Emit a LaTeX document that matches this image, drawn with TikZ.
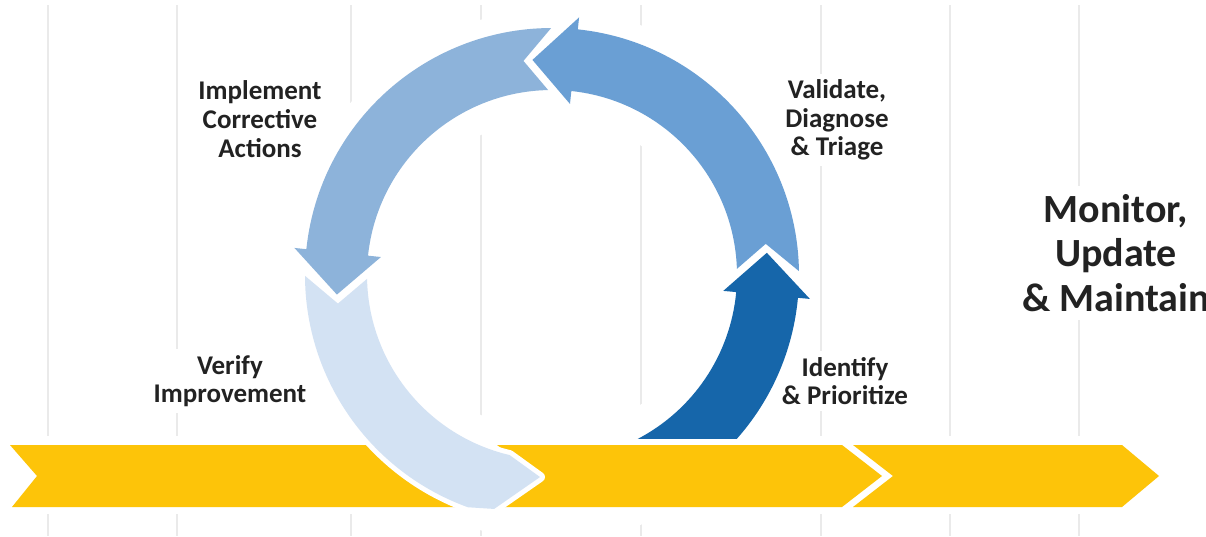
\documentclass[tikz,border=0pt]{standalone}
\usepackage{fontspec}
\setmainfont{Carlito}
\usetikzlibrary{calc}
\definecolor{cycPale}{RGB}{211,226,243}
\definecolor{cycLight}{RGB}{141,179,218}
\definecolor{cycMid}{RGB}{106,159,212}
\definecolor{cycDark}{RGB}{22,102,170}
\definecolor{barYellow}{RGB}{253,196,9}
\definecolor{gridGray}{RGB}{234,234,234}
\definecolor{labelInk}{RGB}{34,34,34}

\begin{document}
\begin{tikzpicture}[x=1pt,y=1pt,
  gridline/.style={draw=gridGray, line width=1.2pt},
  chev/.style={fill=barYellow},
  halo/.style={preaction={draw=white, line width=10pt, line join=round}},
  txt/.style={font=\bfseries\fontsize{27}{28.7}\selectfont, text=labelInk,
              align=center, fill=white, inner sep=6pt},
  bigtxt/.style={font=\bfseries\fontsize{40}{44.5}\selectfont, text=labelInk,
                 align=center, fill=white, inner sep=8pt},
]
\useasboundingbox (0,0) rectangle (1206,-536);
\clip (0,0) rectangle (1206,-536);
\fill[white] (0,0) rectangle (1206,-536);

% faint vertical grid, broken around the timeline bar
\foreach \gx in {48,177,351,481,641,821,950,1079} {
  \draw[gridline] (\gx,-5) -- (\gx,-436);
  \draw[gridline] (\gx,-514) -- (\gx,-536);
}

% clear the grid around the cycle ring
\coordinate (C) at (552,-275);
\draw[white, line width=108pt] (C) circle[radius=211];

% labels
\node[txt] (impl) at (260,-119) {Implement\\Corrective\\Actions};
\node[txt] (valid) at (837,-120) {Validate,\\Diagnose\\\& Triage};
\node[txt] (verify) at (230,-381) {Verify\\Improvement};
\node[txt] (ident) at (845,-381) {Identify\\\& Prioritize};
\node[bigtxt] (monitor) at (1116,-253) {Monitor,\\Update\\\& Maintain};

% timeline chevrons
\path[chev] (10,-445) -- (475,-445) -- (475,-507) -- (12,-507) -- (37,-476) -- cycle;
\path[chev] (497,-445) -- (842,-445) -- (882,-476) -- (842,-507) -- (497,-507) -- (540,-476) -- cycle;
\path[chev] (853,-445) -- (1122,-445) -- (1159,-476) -- (1122,-507) -- (853,-507) -- (893,-476) -- cycle;

% cycle of four curved arrows (outer radius 247, inner radius 185)
\begin{scope}[shift={(C)}]
  % Verify Improvement: left side down into the timeline
  \path[fill=cycPale, halo] (180.2:247) arc[start angle=180.2, end angle=250.1, radius=247]
    -- (256.1:241) -- (266.6:202.4) -- (256.75:185)
    arc[start angle=256.75, end angle=181.2, radius=185]
    -- (187.6:216) -- cycle;
  % Implement Corrective Actions: top to left
  \path[fill=cycLight] (90.2:247) arc[start angle=90.2, end angle=174, radius=247]
    -- (174:259) -- (185.2:216) -- (174:172) -- (174:185)
    arc[start angle=174, end angle=91.2, radius=185] -- (97.6:216) -- cycle;
  % Validate, Diagnose & Triage: right to top
  \path[fill=cycMid] (0.9:247) arc[start angle=0.9, end angle=84, radius=247]
    -- (84:259) -- (95.2:216) -- (84:172) -- (84:185)
    arc[start angle=84, end angle=1.9, radius=185] -- (8.3:216) -- cycle;
  % Identify & Prioritize: rising from the timeline
  \path[fill=cycDark] (-62.4:185) -- (-41.6:247) arc[start angle=-41.6, end angle=-5.3, radius=247]
    -- (-5.3:259) -- (5.9:216) -- (-5.3:172) -- (-5.3:185)
    arc[start angle=-5.3, end angle=-62.4, radius=185] -- cycle;
\end{scope}
\end{tikzpicture}
\end{document}
